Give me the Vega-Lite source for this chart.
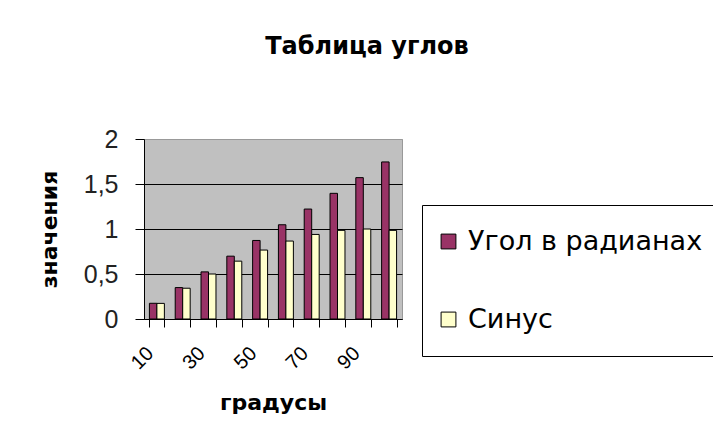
{
  "$schema": "https://vega.github.io/schema/vega-lite/v6.json",
  "autosize": {"type": "none"},
  "width": 258,
  "height": 180,
  "padding": {"left": 144, "top": 139, "right": 311, "bottom": 126},
  "background": "white",
  "title": {
    "text": "Таблица углов",
    "font": "DejaVu Sans",
    "fontSize": 24,
    "fontWeight": "bold",
    "color": "black",
    "anchor": "middle",
    "frame": "group",
    "dx": 94,
    "offset": 68
  },
  "data": {
    "values": [
      {"deg": 10, "series": "Угол в радианах", "value": 0.1745},
      {"deg": 20, "series": "Угол в радианах", "value": 0.3491},
      {"deg": 30, "series": "Угол в радианах", "value": 0.5236},
      {"deg": 40, "series": "Угол в радианах", "value": 0.6981},
      {"deg": 50, "series": "Угол в радианах", "value": 0.8727},
      {"deg": 60, "series": "Угол в радианах", "value": 1.0472},
      {"deg": 70, "series": "Угол в радианах", "value": 1.2217},
      {"deg": 80, "series": "Угол в радианах", "value": 1.3963},
      {"deg": 90, "series": "Угол в радианах", "value": 1.5708},
      {"deg": 100, "series": "Угол в радианах", "value": 1.7453},
      {"deg": 10, "series": "Синус", "value": 0.1736},
      {"deg": 20, "series": "Синус", "value": 0.342},
      {"deg": 30, "series": "Синус", "value": 0.5},
      {"deg": 40, "series": "Синус", "value": 0.6428},
      {"deg": 50, "series": "Синус", "value": 0.766},
      {"deg": 60, "series": "Синус", "value": 0.866},
      {"deg": 70, "series": "Синус", "value": 0.9397},
      {"deg": 80, "series": "Синус", "value": 0.9848},
      {"deg": 90, "series": "Синус", "value": 1.0},
      {"deg": 100, "series": "Синус", "value": 0.9848}
    ]
  },
  "mark": {"type": "bar", "stroke": "black", "strokeWidth": 1},
  "encoding": {
    "x": {
      "field": "deg",
      "type": "ordinal",
      "scale": {"paddingInner": 0.42, "paddingOuter": 0.21},
      "axis": {
        "title": "градусы",
        "titleFont": "DejaVu Sans",
        "titleFontSize": 22,
        "titleFontWeight": "bold",
        "titleColor": "black",
        "titlePadding": 20,
        "labelAngle": -45,
        "labelAlign": "right",
        "labelBaseline": "middle",
        "labelFont": "Liberation Sans",
        "labelFontSize": 20,
        "labelColor": "black",
        "labelPadding": 23,
        "labelOffset": -7,
        "labelExpr": "datum.value % 20 == 10 ? datum.label : ''",
        "tickBand": "extent",
        "tickSize": 8,
        "tickColor": "black",
        "domainColor": "black",
        "grid": false
      }
    },
    "xOffset": {
      "field": "series",
      "type": "nominal",
      "sort": ["Угол в радианах", "Синус"],
      "scale": {"paddingInner": 0, "paddingOuter": 0}
    },
    "y": {
      "field": "value",
      "type": "quantitative",
      "scale": {"domain": [0, 2], "nice": false},
      "axis": {
        "title": "значения",
        "titleFont": "DejaVu Sans",
        "titleFontSize": 22,
        "titleFontWeight": "bold",
        "titleColor": "black",
        "titlePadding": 22,
        "values": [0, 0.5, 1, 1.5, 2],
        "labelExpr": "replace(format(datum.value, '~g'), '.', ',')",
        "labelFont": "Liberation Sans",
        "labelFontSize": 25,
        "labelColor": "#222",
        "labelPadding": 17,
        "tickSize": 9,
        "tickColor": "black",
        "domainColor": "black",
        "grid": true,
        "gridColor": {"condition": {"test": "datum.value == 2", "value": "#999999"}, "value": "black"},
        "gridOpacity": 1
      }
    },
    "color": {
      "field": "series",
      "type": "nominal",
      "scale": {"domain": ["Угол в радианах", "Синус"], "range": ["#993366", "#FFFFCC"]},
      "legend": {
        "title": null,
        "orient": "none",
        "legendX": 278,
        "legendY": 66,
        "padding": 23,
        "strokeColor": "black",
        "fillColor": "white",
        "symbolType": "square",
        "symbolSize": 220,
        "symbolStrokeColor": "black",
        "symbolStrokeWidth": 1,
        "symbolOffset": -10,
        "labelFont": "DejaVu Sans",
        "labelFontSize": 27,
        "labelColor": "black",
        "labelOffset": 6,
        "rowPadding": 50,
        "labelLimit": 400
      }
    }
  },
  "config": {
    "view": {"fill": "#c0c0c0", "stroke": "#999999"}
  }
}
